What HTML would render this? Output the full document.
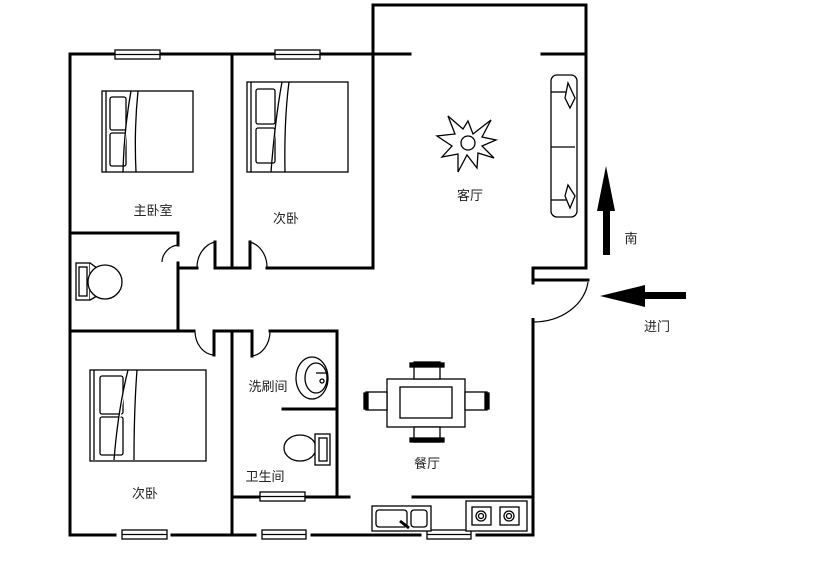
<!DOCTYPE html>
<html><head><meta charset="utf-8"><style>html,body{margin:0;padding:0;background:#fff}svg{display:block}text{font-family:"Liberation Sans","Noto Sans CJK SC",sans-serif;font-size:13px;fill:#222;text-anchor:middle}</style></head><body>
<svg width="829" height="570" viewBox="0 0 829 570" xmlns="http://www.w3.org/2000/svg">
<g stroke="#000" stroke-width="3" fill="none" stroke-linecap="square">
<path d="M70 54 H410 M542 54 H586 M373 5 H586 M373 5 V267 M586 5 V267"/>
<path d="M70 54 V535"/>
<path d="M232 54 V267 M178 268 H197 M215 268 H250 M267 268 H373"/>
<path d="M70 233 H178 V245 M178 263 V330"/>
<path d="M70 331 H194 M214 331 H252 M270 331 H337 M214 331 V355 M232 331 V535 M337 331 V497 M252 331 V356"/>
<path d="M283 409 H337"/>
<path d="M232 497 H349 M413 497 H533 M533 323 V535"/>
<path d="M70 535 H115 M172 535 H255 M312 535 H420 M477 535 H533"/>
<path d="M533 268 H586 M533 280 H588 M533 268 V283"/>
<path d="M215 268 V242 M250 268 V242"/>
</g>
<g stroke="#000" stroke-width="1.2" fill="none">
<path d="M215 242 A22 26 0 0 0 197 268"/>
<path d="M250 242 A22 26 0 0 1 267 268"/>
<path d="M178 245 A18 18 0 0 0 162 262"/>
<path d="M195 331 A20 24 0 0 0 214 355"/>
<path d="M252 356 A20 25 0 0 0 270 331"/>
<path d="M588 282 A55 45 0 0 1 533 322"/>
<line x1="533" y1="318" x2="533" y2="330" stroke-width="3"/>
</g>
<g stroke="#000" stroke-width="1.3" fill="#fff">
<rect x="115" y="50" width="45" height="9"/><line x1="115" y1="54.5" x2="160" y2="54.5"/>
<rect x="275" y="50" width="45" height="9"/><line x1="275" y1="54.5" x2="320" y2="54.5"/>
<rect x="122" y="530" width="45" height="9"/><line x1="122" y1="534.5" x2="167" y2="534.5"/>
<rect x="262" y="530" width="44" height="9"/><line x1="262" y1="534.5" x2="306" y2="534.5"/>
<rect x="427" y="530" width="44" height="9"/><line x1="427" y1="534.5" x2="471" y2="534.5"/>
<rect x="260" y="492" width="45" height="9"/><line x1="260" y1="496.5" x2="305" y2="496.5"/>
</g>
<g stroke="#000" stroke-width="1.3" fill="#fff">
<rect x="102" y="91" width="91" height="81"/>
<line x1="106" y1="91" x2="106" y2="172"/>
<rect x="110" y="97" width="16" height="33" rx="2"/><rect x="110" y="133" width="16" height="33" rx="2"/>
<path d="M131 91 Q124 130 123 172 M138 91 Q134 130 136 172"/>
<rect x="247" y="82" width="101" height="90"/>
<line x1="251" y1="82" x2="251" y2="172"/>
<rect x="256" y="89" width="19" height="35" rx="2"/><rect x="256" y="128" width="19" height="35" rx="2"/>
<path d="M282 82 Q275 120 271 172 M289 82 Q284 120 285 172"/>
<rect x="90" y="370" width="116" height="91"/>
<line x1="94" y1="370" x2="94" y2="460"/>
<rect x="100" y="376" width="23" height="38" rx="2"/><rect x="100" y="417" width="23" height="38" rx="2"/>
<path d="M128 370 Q118 410 114 460 M137 370 Q134 410 134 460"/>
<rect x="76" y="263" width="14" height="37"/><rect x="79" y="267" width="8" height="29"/>
<path d="M90 263 L97 268 L97 296 L90 300"/>
<circle cx="105" cy="282" r="17"/>
<ellipse cx="312" cy="378" rx="16" ry="21"/>
<ellipse cx="316" cy="378" rx="11" ry="15"/>
<line x1="316" y1="373" x2="326" y2="373"/><circle cx="322" cy="381" r="2"/>
<ellipse cx="300" cy="448" rx="16" ry="13"/>
<rect x="315" y="434" width="15" height="31"/><rect x="319" y="438" width="8" height="23"/>
<rect x="387" y="379" width="78" height="48"/>
<rect x="400" y="387" width="52" height="31"/>
<rect x="414" y="362" width="26" height="17"/><rect x="410" y="363" width="34" height="4" fill="#000"/>
<rect x="414" y="427" width="26" height="15"/><rect x="410" y="438" width="34" height="4" fill="#000"/>
<rect x="366" y="392" width="21" height="18"/><rect x="364" y="393" width="4" height="16" fill="#000"/>
<rect x="465" y="392" width="22" height="18"/><rect x="485" y="393" width="4" height="16" fill="#000"/>
<rect x="372" y="506" width="59" height="25"/>
<rect x="376" y="510" width="31" height="17" rx="3"/><rect x="411" y="510" width="16" height="17" rx="3"/>
<line x1="400" y1="521" x2="409" y2="528" stroke-width="3"/>
<rect x="466" y="501" width="61" height="30"/>
<rect x="472" y="507" width="19" height="18"/><circle cx="481" cy="516" r="5"/><circle cx="481" cy="516" r="2.5"/>
<rect x="500" y="507" width="19" height="18"/><circle cx="509" cy="516" r="5"/><circle cx="509" cy="516" r="2.5"/>
<rect x="551" y="75" width="26" height="142" rx="6"/>
<line x1="551" y1="147" x2="575" y2="147"/>
<path d="M568 83 L575 98 L570 108 L565 98 Z M568 185 L575 196 L570 208 L565 196 Z"/>
<line x1="551" y1="92" x2="566" y2="92"/><line x1="551" y1="200" x2="566" y2="200"/>
<path d="M468 121 L473 134 L491 120 L482 137 L496 140 L482 146 L494 158 L478 153 L477 168 L467 155 L458 172 L458 154 L442 157 L452 146 L437 136 L455 134 L448 116 L463 129 Z"/>
<circle cx="468" cy="143" r="7"/>
</g>
<g fill="#000">
<rect x="603" y="205" width="7" height="50"/>
<polygon points="606,166 597,211 615,211"/>
<rect x="630" y="292" width="56" height="7"/>
<polygon points="600,296 645,285 645,307"/>
</g>
<text x="153" y="215">主卧室</text>
<text x="286" y="223">次卧</text>
<text x="470" y="200">客厅</text>
<text x="631" y="243">南</text>
<text x="657" y="331">进门</text>
<text x="268" y="391">洗刷间</text>
<text x="265" y="481">卫生间</text>
<text x="427" y="468">餐厅</text>
<text x="145" y="498">次卧</text>
</svg>
</body></html>
